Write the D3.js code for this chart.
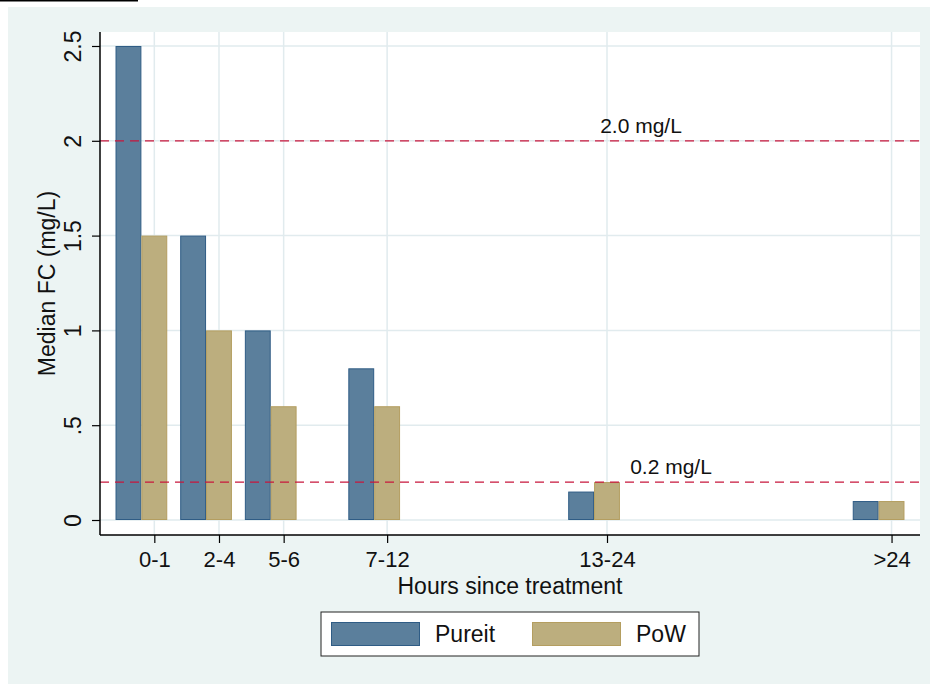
<!DOCTYPE html>
<html><head><meta charset="utf-8">
<script src="https://cdn.jsdelivr.net/npm/d3@7"></script>
<style>body{margin:0;background:#fff}svg{display:block}text{font-family:"Liberation Sans",Arial,Helvetica,sans-serif;fill:#111}</style>
</head><body>
<svg id="c" width="930" height="684"></svg>
<script>
const categories = ["0-1","2-4","5-6","7-12","13-24",">24"];
const hourMid = [0.5, 3, 5.5, 9.5, 18, 29];
const pureit = [2.5, 1.5, 1.0, 0.8, 0.15, 0.1];
const pow = [1.5, 1.0, 0.6, 0.6, 0.2, 0.1];
const yTicks = [0, 0.5, 1, 1.5, 2, 2.5];
const yTickLabels = ["0", ".5", "1", "1.5", "2", "2.5"];
const refLines = [2.0, 0.2];
const refLabels = ["2.0 mg/L", "0.2 mg/L"];
const seriesNames = ["Pureit", "PoW"];

const colPure = "#5b7f9c", strokePure = "#2f5c85";
const colPow = "#bcae7e", strokePow = "#b49e60";
const bg = "#ecf4f3", grid = "#e1ebee", refCol = "#c8173c";

const svg = d3.select("#c");
svg.append("rect").attr("x",0).attr("y",0).attr("width",138).attr("height",1.5).attr("fill","#000");
svg.append("rect").attr("x",8).attr("y",7).attr("width",922).attr("height",677).attr("fill",bg);

const L=100,R=920,T=32,B=535;
svg.append("rect").attr("x",L).attr("y",T).attr("width",R-L).attr("height",B-T).attr("fill","#fff");

const x = d3.scaleLinear().domain([-1.6, 30.1]).range([L,R]);
const y = d3.scaleLinear().domain([-0.0791, 2.5738]).range([B,T]);
const bw = x(1)-x(0);

// grid
svg.append("g").selectAll("line").data(yTicks).join("line")
  .attr("x1",L).attr("x2",R).attr("y1",d=>y(d)).attr("y2",d=>y(d))
  .attr("stroke",grid).attr("stroke-width",1.5);
svg.append("g").selectAll("line").data(hourMid).join("line")
  .attr("x1",d=>x(d)).attr("x2",d=>x(d)).attr("y1",T).attr("y2",B)
  .attr("stroke",grid).attr("stroke-width",1.5);

// bars
const g = svg.append("g");
g.selectAll("rect.p").data(pureit).join("rect").attr("class","p")
  .attr("x",(d,i)=>x(hourMid[i]-1.5)+0.5).attr("width",bw-1)
  .attr("y",d=>y(d)+0.5).attr("height",d=>y(0)-y(d)-1)
  .attr("fill",colPure).attr("stroke",strokePure).attr("stroke-width",1);
g.selectAll("rect.w").data(pow).join("rect").attr("class","w")
  .attr("x",(d,i)=>x(hourMid[i]-0.5)+0.5).attr("width",bw-1)
  .attr("y",d=>y(d)+0.5).attr("height",d=>y(0)-y(d)-1)
  .attr("fill",colPow).attr("stroke",strokePow).attr("stroke-width",1);

// reference lines
svg.append("g").selectAll("line").data(refLines).join("line")
  .attr("x1",L).attr("x2",R).attr("y1",d=>y(d)).attr("y2",d=>y(d))
  .attr("stroke",refCol).attr("stroke-width",1.2).attr("stroke-dasharray","9,6");
const refLabX = [641, 671];
svg.append("g").selectAll("text").data(refLabels).join("text")
  .attr("x",(d,i)=>refLabX[i]).attr("y",(d,i)=>y(refLines[i])-8)
  .attr("text-anchor","middle").attr("font-size",21).text(d=>d);

// axes
const yAxis = d3.axisLeft(y).tickValues(yTicks).tickFormat((d,i)=>yTickLabels[i]).tickSize(8).tickPadding(6);
const ya = svg.append("g").attr("transform",`translate(${L},0)`).call(yAxis);
ya.select(".domain").attr("d",`M0,${T}V${B}`).attr("stroke","#000").attr("stroke-width",1.5);
ya.selectAll(".tick line").attr("stroke","#000").attr("stroke-width",1.2);
ya.selectAll(".tick text").attr("font-size",23).attr("fill","#111")
  .attr("transform","rotate(-90)").attr("text-anchor","middle")
  .attr("x",0).attr("y",-19).attr("dy","0");

const xAxis = d3.axisBottom(x).tickValues(hourMid).tickFormat((d,i)=>categories[i]).tickSize(8).tickPadding(6);
const xa = svg.append("g").attr("transform",`translate(0,${B})`).call(xAxis);
xa.select(".domain").attr("d",`M${L},0H${R}`).attr("stroke","#000").attr("stroke-width",1.5);
xa.selectAll(".tick line").attr("stroke","#000").attr("stroke-width",1.2);
xa.selectAll(".tick text").attr("font-size",22).attr("fill","#111").attr("y",32).attr("dy","0");

svg.append("text").attr("x",(L+R)/2).attr("y",594).attr("text-anchor","middle").attr("font-size",23).text("Hours since treatment");
svg.append("text").attr("transform",`translate(55,${(T+B)/2}) rotate(-90)`).attr("text-anchor","middle").attr("font-size",23).text("Median FC (mg/L)");

// legend
svg.append("rect").attr("x",321).attr("y",612).attr("width",378).attr("height",44).attr("fill","#fff").attr("stroke","#222").attr("stroke-width",1);
const legCols = [[colPure,strokePure],[colPow,strokePow]];
const legX = [331, 532];
const lg = svg.append("g");
lg.selectAll("rect").data(seriesNames).join("rect")
  .attr("x",(d,i)=>legX[i]+0.5).attr("y",622.5).attr("width",88).attr("height",23)
  .attr("fill",(d,i)=>legCols[i][0]).attr("stroke",(d,i)=>legCols[i][1]);
lg.selectAll("text").data(seriesNames).join("text")
  .attr("x",(d,i)=>legX[i]+104).attr("y",642).attr("font-size",23).text(d=>d);
</script>
</body></html>
